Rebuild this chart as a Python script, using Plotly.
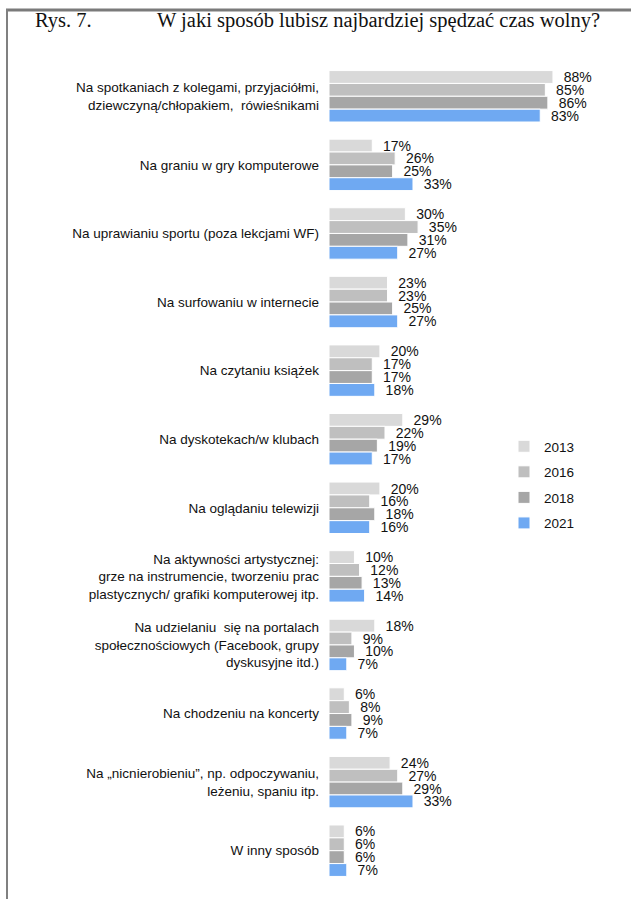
import plotly.graph_objects as go

categories = [
    "Na spotkaniach z kolegami, przyjaciółmi,<br>dziewczyną/chłopakiem,  rówieśnikami",
    "Na graniu w gry komputerowe",
    "Na uprawianiu sportu (poza lekcjami WF)",
    "Na surfowaniu w internecie",
    "Na czytaniu książek",
    "Na dyskotekach/w klubach",
    "Na oglądaniu telewizji",
    "Na aktywności artystycznej:<br>grze na instrumencie, tworzeniu prac<br>plastycznych/ grafiki komputerowej itp.",
    "Na udzielaniu  się na portalach<br>społecznościowych (Facebook, grupy<br>dyskusyjne itd.)",
    "Na chodzeniu na koncerty",
    "Na „nicnierobieniu”, np. odpoczywaniu,<br>leżeniu, spaniu itp.",
    "W inny sposób",
]

years = ["2013", "2016", "2018", "2021"]
v2013 = [88, 17, 30, 23, 20, 29, 20, 10, 18, 6, 24, 6]
v2016 = [85, 26, 35, 23, 17, 22, 16, 12, 9, 8, 27, 6]
v2018 = [86, 25, 31, 25, 17, 19, 18, 13, 10, 9, 29, 6]
v2021 = [83, 33, 27, 27, 18, 17, 16, 14, 7, 7, 33, 7]
series = [v2013, v2016, v2018, v2021]
colors = ["#d9d9d9", "#bfbfbf", "#a6a6a6", "#6fa9f2"]

W, H = 631, 899
ML, MR, MT, MB = 329, 21, 62, 14
PW, PH = W - ML - MR, H - MT - MB

def px_x(px):
    return (px - ML) / PW

def px_y(py):
    return (H - MB - py) / PH

fig = go.Figure()
for yr, vals, col in zip(years, series, colors):
    fig.add_trace(go.Bar(
        name=yr, y=categories, x=vals, orientation="h",
        marker=dict(color=col, line=dict(color="white", width=1)),
        texttemplate="\u00a0\u00a0%{x}%", textposition="outside",
        textfont=dict(family="Liberation Sans, Arial", size=14, color="#111"),
        constraintext="none", cliponaxis=False,
        legendgroup=yr,
    ))

fig.update_layout(
    width=W, height=H,
    margin=dict(l=ML, r=MR, t=MT, b=MB),
    paper_bgcolor="white", plot_bgcolor="white",
    barmode="group", bargap=0.25, bargroupgap=0.0,
    font=dict(family="Liberation Sans, Arial", size=13, color="#111"),
    xaxis=dict(range=[0, PW / 2.545], showticklabels=False, showgrid=False,
               zeroline=False, showline=False, fixedrange=True),
    yaxis=dict(autorange="reversed", showgrid=False, zeroline=False,
               showline=False, ticks="", ticklabelstandoff=9,
               tickfont=dict(family="Liberation Sans, Arial", size=13.5, color="#111")),
    legend=dict(x=px_x(504), y=px_y(431), xanchor="left", yanchor="top",
                traceorder="grouped", tracegroupgap=5,
                font=dict(family="Liberation Sans, Arial", size=13.5, color="#111"),
                bgcolor="rgba(0,0,0,0)"),
    showlegend=True,
)

fig.add_annotation(text="Rys. 7.", x=px_x(33), y=px_y(21), xref="paper", yref="paper",
                   xanchor="left", yanchor="middle", showarrow=False,
                   font=dict(family="Liberation Serif, Times New Roman", size=20.5, color="#111"))
fig.add_annotation(text="W jaki sposób lubisz najbardziej spędzać czas wolny?",
                   x=px_x(155), y=px_y(21), xref="paper", yref="paper",
                   xanchor="left", yanchor="middle", showarrow=False,
                   font=dict(family="Liberation Serif, Times New Roman", size=20.5, color="#111"))

# page frame (top edge drawn as pixel-sized line relative to paper)
fig.add_shape(type="line", xref="paper", yref="paper",
              x0=px_x(6), x1=px_x(631), y0=px_y(10), y1=px_y(10),
              line=dict(color="#7a7a7a", width=3), layer="above")
fig.add_shape(type="line", xref="paper", yref="paper",
              x0=px_x(7), x1=px_x(7), y0=px_y(9), y1=px_y(899),
              line=dict(color="#808080", width=2), layer="above")

fig.write_html("out.html", config={"displayModeBar": False},
               post_script="document.body.style.margin='0';document.body.style.padding='0';document.body.style.overflow='hidden';")
